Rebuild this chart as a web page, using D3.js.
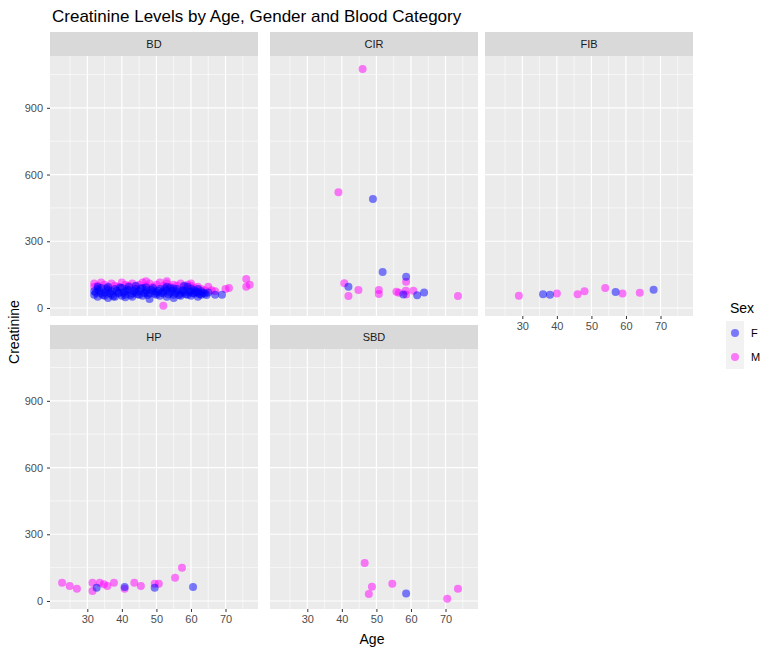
<!DOCTYPE html>
<html>
<head>
<meta charset="UTF-8">
<style>
body { margin: 0; background: #fff; }
text { font-family: Arial, "Liberation Sans", sans-serif; }
</style>
</head>
<body>
<script src="https://d3js.org/d3.v7.min.js"></script>
<svg width="769" height="655"></svg>
<script>
var categories = ["BD", "CIR", "FIB", "HP", "SBD"];
var sexes = ["F", "M"];
var xTicks = [30, 40, 50, 60, 70];
var yTicks = [0, 300, 600, 900];

// [age, creatinine]
var bdF = [[32,60],[32,75],[33,85],[33,50],[34,65],[34,90],[35,70],[35,55],[36,80],[36,95],[37,60],[37,75],[38,50],[38,85],[39,70],[39,65],[40,90],[40,55],[41,75],[41,60],[42,80],[42,95],[43,65],[43,50],[44,70],[44,85],[45,60],[45,75],[46,90],[46,55],[47,70],[47,80],[48,65],[48,40],[49,75],[49,90],[50,60],[50,70],[51,85],[51,55],[52,65],[52,75],[53,80],[53,50],[54,70],[54,90],[55,60],[55,45],[56,75],[56,85],[57,65],[57,55],[58,70],[58,80],[59,60],[59,95],[60,75],[60,55],[61,65],[61,80],[62,50],[62,70],[63,60],[63,75],[64,65],[65,70],[67,60],[69,60],[44,100],[58,100],
  [32.5,68],[33.5,78],[34.5,58],[35.5,88],[36.5,66],[37.5,52],[38.5,78],[39.5,92],[40.5,68],[41.5,84],[42.5,58],[43.5,76],[44.5,62],[45.5,88],[46.5,66],[47.5,58],[48.5,82],[49.5,64],[50.5,78],[51.5,68],[52.5,88],[53.5,62],[54.5,78],[55.5,68],[56.5,58],[57.5,78],[58.5,62],[59.5,72],[60.5,66],[61.5,72],[62.5,62],[63.5,68],[64.5,58],[33,95],[36,45],[41,48],[47,92],[53,95],[55,88],[60,88],[62,85]];
var bdM = [[32,110],[32,95],[33,100],[34,115],[35,105],[36,90],[37,110],[38,100],[39,95],[40,115],[41,105],[42,100],[43,110],[44,95],[45,105],[46,115],[47,100],[48,110],[49,95],[50,105],[51,115],[52,100],[52,10],[53,110],[54,95],[55,105],[56,100],[57,110],[58,95],[59,105],[60,100],[61,90],[62,95],[63,85],[64,80],[65,95],[66,80],[67,75],[70,85],[71,90],[76,130],[77,105],[76,95],[53,120],[47,120],[60,110]];
var cirF = [[49,490],[51.8,162],[58.6,141],[41.9,96],[57.8,61],[61.8,57],[63.8,70]];
var cirM = [[39,520],[46,1075],[58.6,118],[40.7,111],[44.8,81],[41.9,54],[50.7,81],[50.7,63],[55.8,73],[58.5,78],[60.7,78],[58.6,61],[56.5,68],[73.6,54]];
var fibF = [[36,62],[38,60],[57,72],[68,82]];
var fibM = [[29,55],[40,65],[46,62],[48,75],[54,90],[59,65],[64,68]];
var hpF = [[32.7,60],[40.8,63],[49.5,60],[60.6,63]];
var hpM = [[22.7,82],[24.9,67],[27,55],[31.5,82],[31.5,45],[33.6,82],[34.8,75],[35.8,67],[37.7,82],[40.8,55],[43.6,82],[45.5,67],[49.5,78],[50.7,78],[55.4,104],[57.4,150]];
var sbdF = [[58.6,34]];
var sbdM = [[46.6,171],[48.7,64],[47.8,31],[54.6,78],[70.5,10],[73.6,55]];

var panelData = {
  BD: [bdF, bdM], CIR: [cirF, cirM], FIB: [fibF, fibM], HP: [hpF, hpM], SBD: [sbdF, sbdM]
};
var colors = { F: "#0000ff", M: "#ff00ff" };

var svg = d3.select("svg");
var colX = [50, 270, 485], pw = 208;
var rowY = [56, 349], ph = 260, stripH = 24;

var x = d3.scaleLinear().domain([19.2, 79.4]).range([0, pw]);
var y = d3.scaleLinear().domain([-36, 1133]).range([ph, 0]);

categories.forEach(function(cat, i) {
  var col = i % 3, row = Math.floor(i / 3);
  var g = svg.append("g").attr("transform", "translate(" + colX[col] + "," + rowY[row] + ")");
  g.append("rect").attr("x", 0).attr("y", -stripH).attr("width", pw).attr("height", stripH).attr("fill", "#d9d9d9");
  g.append("text").attr("x", pw / 2).attr("y", -stripH / 2 + 4).attr("text-anchor", "middle")
    .attr("font-size", 11).attr("fill", "#1a1a1a").text(cat);
  g.append("rect").attr("width", pw).attr("height", ph).attr("fill", "#ebebeb");
  [25, 35, 45, 55, 65, 75].forEach(function(v) {
    g.append("line").attr("x1", x(v)).attr("x2", x(v)).attr("y1", 0).attr("y2", ph).attr("stroke", "#fff").attr("stroke-width", 0.6);
  });
  [150, 450, 750, 1050].forEach(function(v) {
    g.append("line").attr("y1", y(v)).attr("y2", y(v)).attr("x1", 0).attr("x2", pw).attr("stroke", "#fff").attr("stroke-width", 0.6);
  });
  xTicks.forEach(function(v) {
    g.append("line").attr("x1", x(v)).attr("x2", x(v)).attr("y1", 0).attr("y2", ph).attr("stroke", "#fff").attr("stroke-width", 1.2);
  });
  yTicks.forEach(function(v) {
    g.append("line").attr("y1", y(v)).attr("y2", y(v)).attr("x1", 0).attr("x2", pw).attr("stroke", "#fff").attr("stroke-width", 1.2);
  });
  // M first, F drawn on top
  [1, 0].forEach(function(k) {
    var s = sexes[k];
    g.selectAll(".p" + s).data(panelData[cat][k]).enter().append("circle")
      .attr("cx", function(d) { return x(d[0]); })
      .attr("cy", function(d) { return y(d[1]); })
      .attr("r", 4).attr("fill", colors[s]).attr("fill-opacity", 0.5);
  });
  if (col === 0) {
    var ya = g.append("g").call(d3.axisLeft(y).tickValues(yTicks).tickSize(3).tickPadding(4));
    ya.select(".domain").remove();
    ya.selectAll("line").attr("stroke", "#333");
    ya.selectAll("text").attr("fill", "#4d4d4d").attr("font-size", 11);
  }
  if (row === 1 || cat === "FIB") {
    var xa = g.append("g").attr("transform", "translate(0," + ph + ")")
      .call(d3.axisBottom(x).tickValues(xTicks).tickSize(3).tickPadding(3));
    xa.select(".domain").remove();
    xa.selectAll("line").attr("stroke", "#333");
    xa.selectAll("text").attr("fill", "#4d4d4d").attr("font-size", 11);
  }
});

svg.append("text").attr("x", 52).attr("y", 22).attr("font-size", 17).attr("fill", "#000")
  .text("Creatinine Levels by Age, Gender and Blood Category");
svg.append("text").attr("x", 372).attr("y", 644).attr("text-anchor", "middle").attr("font-size", 14).text("Age");
svg.append("text").attr("transform", "translate(19,332) rotate(-90)").attr("text-anchor", "middle").attr("font-size", 14).text("Creatinine");

svg.append("text").attr("x", 730).attr("y", 313).attr("font-size", 14).text("Sex");
sexes.forEach(function(s, k) {
  var cy = 333 + k * 24;
  svg.append("rect").attr("x", 726).attr("y", cy - 12).attr("width", 18).attr("height", 24).attr("fill", "#f2f2f2");
  svg.append("circle").attr("cx", 735).attr("cy", cy).attr("r", 4).attr("fill", colors[s]).attr("fill-opacity", 0.5);
  svg.append("text").attr("x", 751).attr("y", cy + 4).attr("font-size", 11).text(s);
});
</script>
</body>
</html>
